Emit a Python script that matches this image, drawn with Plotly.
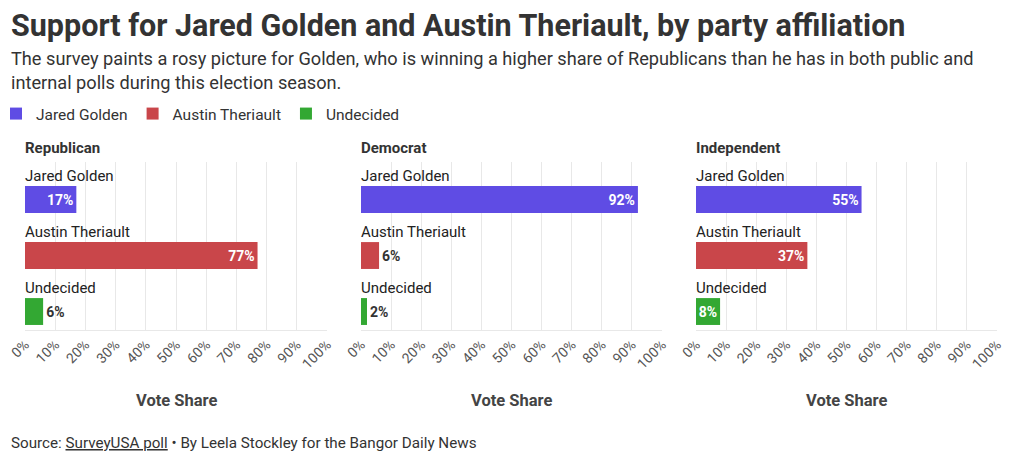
import plotly.graph_objects as go

groups = ["Republican", "Democrat", "Independent"]
candidates = ["Jared Golden", "Austin Theriault", "Undecided"]
values = {
    "Republican": [17, 77, 6],
    "Democrat": [92, 6, 2],
    "Independent": [55, 37, 8],
}
colors = ["#5f4ce4", "#c9464a", "#33a833"]
x_ticks = list(range(0, 101, 10))
x_tick_labels = [f"{t}%" for t in x_ticks]

PAGE_OFF = 8  # default body margin of the html page
W, H = 1020 - PAGE_OFF, 463 - PAGE_OFF
FONT = "Roboto"
TXT = "#333333"

# panel pixel extents (in window pixels)
panels_px = [(25, 327), (361, 662), (696, 997)]
plot_top, plot_bot = 162, 330

def px_x(p):
    return (p - PAGE_OFF) / W

def px_y(p):
    return 1 - (p - PAGE_OFF) / H

fig = go.Figure()
layout_axes = {}
annotations = []

BAR_OFFSET = 0.17
BAR_WIDTH = 0.48

for gi, g in enumerate(groups):
    xa = "x" if gi == 0 else f"x{gi+1}"
    ya = "y" if gi == 0 else f"y{gi+1}"
    vals = values[g]
    for ci, c in enumerate(candidates):
        v = vals[ci]
        inside = v >= 8
        fig.add_trace(go.Bar(
            x=[v], y=[ci + BAR_OFFSET], orientation="h",
            width=BAR_WIDTH,
            marker=dict(color=colors[ci], line=dict(width=0)),
            name=c, legendgroup=c, showlegend=(gi == 0),
            text=[f"{v}%"],
            textposition="inside" if inside else "outside",
            insidetextanchor="end", textangle=0,
            textfont=dict(family=FONT, size=14, color="white" if inside else TXT, weight="bold"),
            cliponaxis=False,
            xaxis=xa, yaxis=ya,
            hoverinfo="skip",
        ))
        annotations.append(dict(
            x=0, y=ci - 0.25, xref=xa, yref=ya, text=c, showarrow=False,
            xanchor="left", yanchor="middle", xshift=-2,
            font=dict(family=FONT, size=15, color="#222222"),
        ))
    l, r = panels_px[gi]
    kx = "xaxis" if gi == 0 else f"xaxis{gi+1}"
    ky = "yaxis" if gi == 0 else f"yaxis{gi+1}"
    layout_axes[kx] = dict(
        domain=[px_x(l), px_x(r)], range=[0, 100], anchor=ya,
        tickvals=x_ticks, ticktext=x_tick_labels, tickangle=-45,
        tickfont=dict(family=FONT, size=14, color="#555555"),
        ticklabeloverflow="allow",
        showgrid=True, gridcolor="#e8e8e8", gridwidth=1,
        showline=True, linecolor="#e8e8e8", zeroline=False,
        ticks="", fixedrange=True, automargin=False,
    )
    layout_axes[ky] = dict(
        domain=[px_y(plot_bot), px_y(plot_top)], range=[2.5, -0.5],
        anchor=xa, showticklabels=False, showgrid=False, zeroline=False,
        fixedrange=True, automargin=False,
    )
    # panel title
    annotations.append(dict(
        x=px_x(l), y=px_y(148), xref="paper", yref="paper", text=f"<b>{g}</b>",
        showarrow=False, xanchor="left", yanchor="middle", xshift=-2,
        font=dict(family=FONT, size=15, color=TXT),
    ))
    # axis title
    annotations.append(dict(
        x=px_x((l + r) / 2), y=px_y(400), xref="paper", yref="paper",
        text="<b>Vote Share</b>", showarrow=False, xanchor="center", yanchor="middle",
        font=dict(family=FONT, size=16.5, color="#444444"),
    ))

annotations.append(dict(
    x=px_x(11), y=px_y(26), xref="paper", yref="paper",
    text="<b>Support for Jared Golden and Austin Theriault, by party affiliation</b>",
    showarrow=False, xanchor="left", yanchor="middle", xshift=-2,
    font=dict(family=FONT, size=30.5, color=TXT),
))
annotations.append(dict(
    x=px_x(11), y=px_y(71), xref="paper", yref="paper",
    text="The survey paints a rosy picture for Golden, who is winning a higher share of Republicans than he has in both public and<br>internal polls during this election season.",
    showarrow=False, xanchor="left", yanchor="middle", align="left", xshift=-2,
    font=dict(family=FONT, size=18.2, color=TXT),
))
annotations.append(dict(
    x=px_x(11), y=px_y(443), xref="paper", yref="paper",
    text="Source: <u>SurveyUSA poll</u> • By Leela Stockley for the Bangor Daily News",
    showarrow=False, xanchor="left", yanchor="middle", xshift=-2,
    font=dict(family=FONT, size=15.2, color=TXT),
))

fig.update_layout(
    width=W, height=H,
    margin=dict(l=0, r=0, t=0, b=0, autoexpand=False),
    paper_bgcolor="white", plot_bgcolor="white",
    barmode="overlay",
    showlegend=True,
    legend=dict(
        orientation="h", x=-12 / W, y=px_y(114), xanchor="left", yanchor="middle",
        font=dict(family=FONT, size=15.5, color=TXT),
        itemwidth=30, tracegroupgap=0, traceorder="normal",
        bgcolor="rgba(0,0,0,0)",
    ),
    annotations=annotations,
    uniformtext=dict(mode="show", minsize=14),
    **layout_axes,
)

fig.write_html("out.html")
